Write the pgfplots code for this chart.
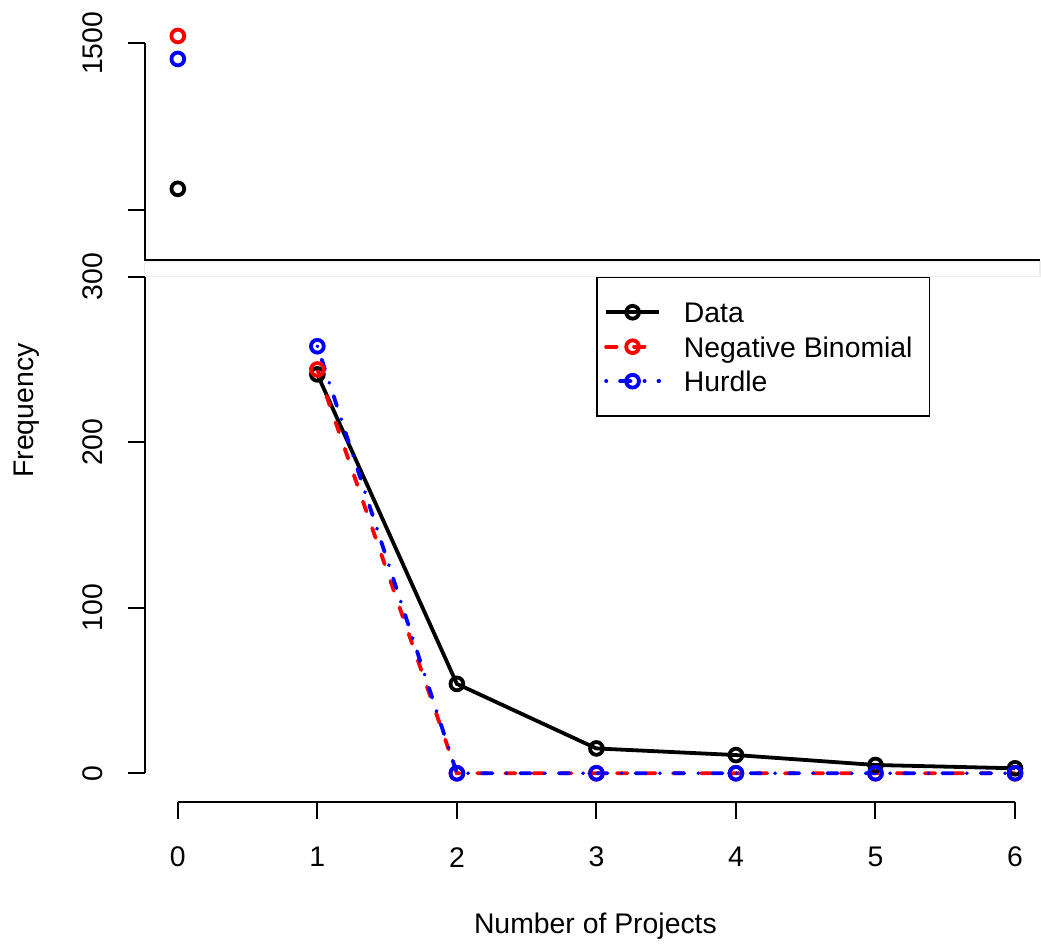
\documentclass[border=0pt]{standalone}
\usepackage{fontspec}
\setmainfont{Liberation Sans}
\usepackage{pgfplots}
\pgfplotsset{compat=1.18}
% pixel of the reference -> picture coordinate (1 px = 0.5pt)
\newcommand{\pxy}[2]{({#1*0.5pt},{(941-#2)*0.5pt})}
\begin{document}
\fontsize{14.2}{17}\selectfont
\begin{tikzpicture}[axln/.style={line width=1pt, black}]
\path \pxy{0}{0} rectangle \pxy{1041}{941};

\pgfplotsset{
  gapax/.style={
    scale only axis, width=448pt, hide axis, clip=false,
    xmin=-0.2363, xmax=6.179, anchor=south west,
  },
  dat/.style={black, line width=1.9pt, mark=o, mark size=3.2pt, mark options={solid}},
  nb/.style={red, line width=1.9pt, line cap=round, dash pattern=on 5.2pt off 8.8pt,
             mark=o, mark size=3.2pt, mark options={solid}},
  hu/.style={blue, line width=1.9pt, line cap=round,
             dash pattern=on 0.1pt off 6.9pt on 5.2pt off 7pt,
             mark=o, mark size=3.2pt, mark options={solid}},
}

% gap band
\draw[black!7, line width=0.6pt] \pxy{145}{262} rectangle \pxy{1041}{277};

% upper panel (zero counts)
\begin{axis}[gapax, at={(72.5pt,340.5pt)}, height=130pt, ymin=850, ymax=1630]
\addplot[dat, only marks] coordinates {(0,1063)};
\addplot[nb, only marks] coordinates {(0,1522)};
\addplot[hu, only marks] coordinates {(0,1453)};
\draw[axln] (axis cs:-0.2363,1500) -- (axis cs:-0.2363,850) -- (axis cs:6.179,850);
\draw[axln] (axis cs:-0.2363,1500) -- ++(-8.5pt,0pt);
\draw[axln] (axis cs:-0.2363,1000) -- ++(-8.5pt,0pt);
\node[rotate=90] at ([xshift=-26pt]axis cs:-0.2363,1500) {1500};
\end{axis}

% lower panel
\begin{axis}[gapax, at={(72.5pt,69pt)}, height=263pt, ymin=-17.5, ymax=300,
  legend style={at={(axis cs:3,300)}, anchor=north west, draw=black,
    line width=0.8pt, fill=white, inner xsep=3.5pt, inner ysep=8.75pt,
    row sep=0pt, font=\fontsize{14.2}{17}\selectfont,
    /tikz/every odd column/.style={column sep=11.5pt},
    nodes={inner sep=0pt, text height=13.8pt, text depth=3.45pt}},
  legend cell align=left,
  legend image code/.code={
    \draw[mark repeat=2, mark phase=2, #1] plot coordinates {(0pt,0pt) (13.25pt,0pt) (26.5pt,0pt)};
  },
]
\addplot[dat] coordinates {(1,241) (2,54) (3,15) (4,11) (5,5) (6,3)};
\addlegendentry{Data}
\addplot[nb] coordinates {(1,244) (2,0) (3,0) (4,0) (5,0) (6,0)};
\addlegendentry{Negative Binomial\kern5pt}
\addplot[hu] coordinates {(1,258) (2,0) (3,0) (4,0) (5,0) (6,0)};
\addlegendentry{Hurdle}

\draw[axln] (axis cs:-0.2363,0) -- (axis cs:-0.2363,300);
\pgfplotsinvokeforeach{0,100,200,300}{
  \draw[axln] (axis cs:-0.2363,#1) -- ++(-8.5pt,0pt);
  \node[rotate=90] at ([xshift=-26pt]axis cs:-0.2363,#1) {#1};
}
\draw[axln] (axis cs:0,-17.5) -- (axis cs:6,-17.5);
\pgfplotsinvokeforeach{0,...,6}{
  \draw[axln] (axis cs:#1,-17.5) -- ++(0pt,-8.5pt);
  \node at ([yshift=-27.5pt]axis cs:#1,-17.5) {#1};
}
\end{axis}

\node[rotate=90, anchor=base] at \pxy{34}{411} {Frequency};
\node[anchor=base] at \pxy{596}{934} {Number of Projects};
\end{tikzpicture}
\end{document}
